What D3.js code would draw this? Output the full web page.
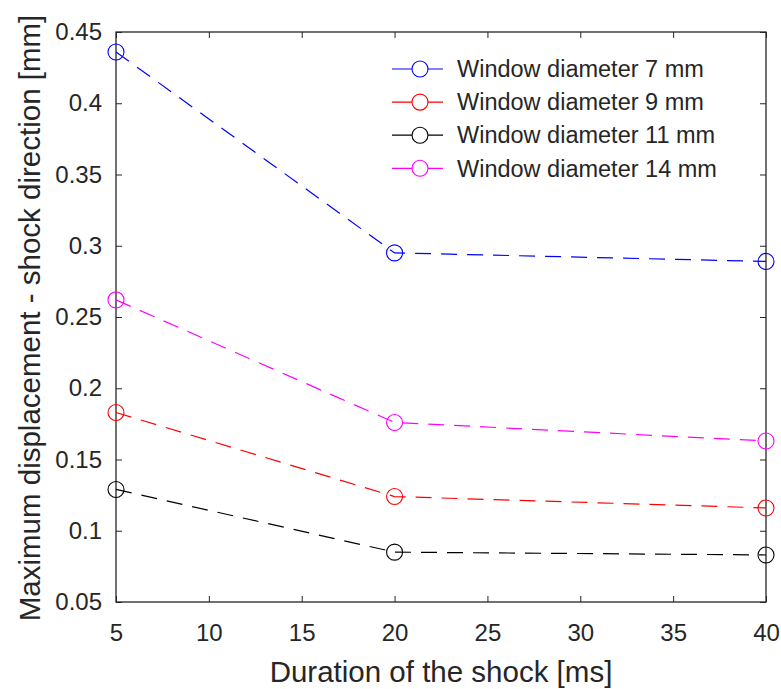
<!DOCTYPE html>
<html>
<head>
<meta charset="utf-8">
<script src="https://cdn.jsdelivr.net/npm/d3@7"></script>
<style>
  body { margin: 0; background: #fff; }
  text { font-family: "Liberation Sans", Arial, sans-serif; fill: #262626; }
</style>
</head>
<body>
<div id="chart"></div>
<script>
var durations = [5, 20, 40];
var dia7 = [0.436, 0.295, 0.289];
var dia9 = [0.183, 0.124, 0.116];
var dia11 = [0.129, 0.085, 0.083];
var dia14 = [0.262, 0.176, 0.163];
var seriesNames = ['Window diameter 7 mm', 'Window diameter 9 mm', 'Window diameter 11 mm', 'Window diameter 14 mm'];
var seriesColors = ['#0000ff', '#ff0000', '#000000', '#ff00ff'];
var xTicks = [5, 10, 15, 20, 25, 30, 35, 40];
var yTicks = [0.05, 0.1, 0.15, 0.2, 0.25, 0.3, 0.35, 0.4, 0.45];

var width = 781, height = 689;
var plotLeft = 116, plotRight = 766, plotTop = 32, plotBottom = 602;
var axisColor = '#262626';

var x = d3.scaleLinear().domain([5, 40]).range([plotLeft, plotRight]);
var y = d3.scaleLinear().domain([0.05, 0.45]).range([plotBottom, plotTop]);

var svg = d3.select('#chart').append('svg')
    .attr('width', width)
    .attr('height', height);

// inward ticks on all four sides (box on)
function styleAxis(g) {
    g.select('.domain').remove();
    g.selectAll('.tick line').attr('stroke', axisColor).attr('stroke-width', 1);
}

svg.append('g')
    .attr('transform', 'translate(0,' + plotBottom + ')')
    .call(d3.axisBottom(x).tickValues(xTicks).tickSizeInner(-6).tickSizeOuter(0).tickPadding(22).tickFormat(d3.format('d')))
    .call(styleAxis)
    .selectAll('text').style('font-size', '24px').attr('fill', axisColor);

svg.append('g')
    .attr('transform', 'translate(0,' + plotTop + ')')
    .call(d3.axisTop(x).tickValues(xTicks).tickSizeInner(-6).tickSizeOuter(0).tickFormat(''))
    .call(styleAxis);

svg.append('g')
    .attr('transform', 'translate(' + plotLeft + ',0)')
    .call(d3.axisLeft(y).tickValues(yTicks).tickSizeInner(-6).tickSizeOuter(0).tickPadding(14).tickFormat(function (d) { return String(+d.toFixed(2)); }))
    .call(styleAxis)
    .selectAll('text').style('font-size', '24px').attr('fill', axisColor);

svg.append('g')
    .attr('transform', 'translate(' + plotRight + ',0)')
    .call(d3.axisRight(y).tickValues(yTicks).tickSizeInner(-6).tickSizeOuter(0).tickFormat(''))
    .call(styleAxis);

svg.append('rect')
    .attr('x', plotLeft).attr('y', plotTop)
    .attr('width', plotRight - plotLeft).attr('height', plotBottom - plotTop)
    .attr('fill', 'none').attr('stroke', axisColor).attr('stroke-width', 1.3);

var allSeries = [dia7, dia9, dia11, dia14];
var line = d3.line()
    .x(function (d, i) { return x(durations[i]); })
    .y(function (d) { return y(d); });

allSeries.forEach(function (values, k) {
    svg.append('path')
        .datum(values)
        .attr('d', line)
        .attr('fill', 'none')
        .attr('stroke', seriesColors[k])
        .attr('stroke-width', 1.2)
        .attr('stroke-dasharray', '16,10');

    svg.selectAll('.pt' + k)
        .data(values)
        .enter()
        .append('circle')
        .attr('cx', function (d, i) { return x(durations[i]); })
        .attr('cy', function (d) { return y(d); })
        .attr('r', 8)
        .attr('fill', 'none')
        .attr('stroke', seriesColors[k])
        .attr('stroke-width', 1.1);
});

// legend, no box
var legend = svg.append('g');
seriesNames.forEach(function (name, k) {
    var ly = 69 + k * 33.1;
    legend.append('line')
        .attr('x1', 392).attr('x2', 443)
        .attr('y1', ly).attr('y2', ly)
        .attr('stroke', seriesColors[k]).attr('stroke-width', 1.2);
    legend.append('circle')
        .attr('cx', 420).attr('cy', ly).attr('r', 8)
        .attr('fill', '#fff').attr('stroke', seriesColors[k]).attr('stroke-width', 1.1);
    legend.append('text')
        .attr('x', 457).attr('y', ly)
        .attr('dy', '0.35em')
        .style('font-size', '23.5px')
        .text(name);
});

svg.append('text')
    .attr('x', (plotLeft + plotRight) / 2)
    .attr('y', 682)
    .attr('text-anchor', 'middle')
    .style('font-size', '29.5px')
    .text('Duration of the shock [ms]');

svg.append('text')
    .attr('transform', 'translate(40,' + 318 + ') rotate(-90)')
    .attr('text-anchor', 'middle')
    .style('font-size', '29.5px')
    .text('Maximum displacement - shock direction [mm]');
</script>
</body>
</html>
